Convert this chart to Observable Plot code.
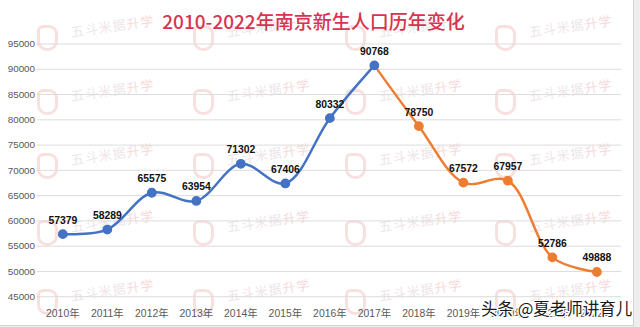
<!DOCTYPE html>
<html>
<head>
<meta charset="utf-8">
<script src="https://cdn.jsdelivr.net/npm/d3@7"></script>
<script src="https://cdn.jsdelivr.net/npm/@observablehq/plot@0.6"></script>
<style>
  html, body { margin: 0; padding: 0; background: #eeeeee; }
  #wrap { position: relative; width: 633px; height: 325px; background: #ffffff; border-right: 1px solid #d4d4d4; border-bottom: 1px solid #d4d4d4; overflow: hidden; font-family: "Noto Sans CJK SC", sans-serif; }
  #title { position: absolute; left: 0; top: 8px; width: 627px; text-align: center; font-size: 19px; font-weight: 500; color: #d8344f; line-height: 26px; z-index: 3; }
  #wm { position: absolute; left: 0; top: 0; width: 633px; height: 325px; z-index: 0; }
  .logo { position: absolute; width: 15px; height: 20px; border: 3px solid #f8e0e0; border-radius: 6px 9px 10px 10px; }
  .wtxt { position: absolute; font-size: 13px; color: #eee6e7; transform: rotate(-8deg); transform-origin: left center; letter-spacing: 1px; white-space: nowrap; }
  .wtxt span { color: #f6dadc; }
  #chart { position: absolute; left: 0; top: 0; z-index: 2; }
  #credit { position: absolute; left: 481px; top: 297px; font-size: 16.5px; color: #1a1a1a; z-index: 4; white-space: nowrap;
    text-shadow: -1px -1px 0 #fff, 1px -1px 0 #fff, -1px 1px 0 #fff, 1px 1px 0 #fff, 0 1px 0 #fff, 0 -1px 0 #fff, 1px 0 0 #fff, -1px 0 0 #fff; line-height: 22px; }
</style>
</head>
<body>
<div id="wrap">
  <div id="wm"></div>
  <div id="title">2010-2022年南京新生人口历年变化</div>
  <div id="chart"></div>
  <div id="credit">头条 @夏老师讲育儿</div>
</div>
<script>
// ---- data ----
const years = ["2010年","2011年","2012年","2013年","2014年","2015年","2016年","2017年","2018年","2019年","2020年","2021年","2022年"];
const births = [57379, 58289, 65575, 63954, 71302, 67406, 80332, 90768, 78750, 67572, 67957, 52786, 49888];
const yTicks = [45000, 50000, 55000, 60000, 65000, 70000, 75000, 80000, 85000, 90000, 95000];
const splitYear = "2017年"; // blue up to and including, orange from here on

const rows = years.map((y, i) => ({year: y, value: births[i], idx: i}));
const splitIdx = years.indexOf(splitYear);
const blueRows = rows.filter(d => d.idx <= splitIdx);
const orangeRows = rows.filter(d => d.idx >= splitIdx);
const orangeDots = rows.filter(d => d.idx > splitIdx);

const BLUE = "#4472c4", ORANGE = "#ed7d31";

const chart = Plot.plot({
  width: 640,
  height: 327,
  marginTop: 44,
  marginBottom: 27.5,
  marginLeft: 37,
  marginRight: 12,
  style: {background: "transparent", fontFamily: "'Liberation Sans', 'Noto Sans CJK SC', sans-serif"},
  x: {type: "point", domain: years, padding: 0.5, label: null},
  y: {domain: [45000, 95000], label: null},
  marks: [
    Plot.ruleY(yTicks, {stroke: "#dcdcdc", strokeWidth: 1}),
    Plot.axisX({tickSize: 0, tickPadding: 13, fontSize: 10.5, fill: "#595959"}),
    Plot.axisY({ticks: yTicks, tickSize: 0, tickPadding: 2, fontSize: 10, fill: "#595959", tickFormat: d => String(d)}),
    Plot.line(blueRows, {x: "year", y: "value", stroke: BLUE, strokeWidth: 2.5, curve: "catmull-rom"}),
    Plot.line(orangeRows, {x: "year", y: "value", stroke: ORANGE, strokeWidth: 2.5, curve: "catmull-rom"}),
    Plot.dot(orangeDots, {x: "year", y: "value", r: 4.2, fill: ORANGE, stroke: ORANGE}),
    Plot.dot(blueRows, {x: "year", y: "value", r: 4.2, fill: BLUE, stroke: BLUE}),
    Plot.text(rows, {x: "year", y: "value", text: d => String(d.value), dy: -14, fontSize: 10.5, fontWeight: "bold", fill: "#111"})
  ]
});
document.getElementById("chart").appendChild(chart);

// ---- faint watermark (decoration) ----
const wmCols = [47, 203, 355, 505];
const wmRows = [36, 100, 164, 231, 300];
const wm = document.getElementById("wm");
wmRows.forEach(ry => wmCols.forEach(cx => {
  const logo = document.createElement("div");
  logo.className = "logo";
  logo.style.left = (cx - 10) + "px";
  logo.style.top = (ry - 11) + "px";
  wm.appendChild(logo);
  const t = document.createElement("div");
  t.className = "wtxt";
  t.innerHTML = "五斗米据<span>升学</span>";
  t.style.left = (cx + 24) + "px";
  t.style.top = (ry - 14) + "px";
  wm.appendChild(t);
}));
</script>
</body>
</html>
